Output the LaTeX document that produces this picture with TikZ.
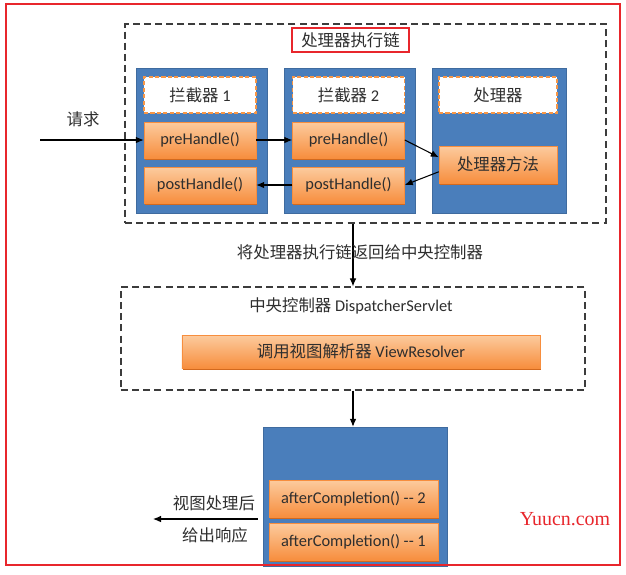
\documentclass[tikz,border=0pt]{standalone}
\usepackage{fontspec}
\setmainfont{Carlito}
\newfontfamily\cjk{Noto Sans CJK SC}
\newfontfamily\wmfont{Liberation Serif}
\usetikzlibrary{calc,shadows,arrows.meta}
\newcommand{\zh}[1]{{\cjk #1}}
\definecolor{colblue}{HTML}{4A7EBB}
\definecolor{boxorange}{HTML}{F79646}
\definecolor{orangetop}{HTML}{FCCB9E}
\definecolor{orangebot}{HTML}{F78E3E}
\definecolor{orangeedge}{HTML}{D2691E}
\definecolor{framered}{HTML}{E8262C}
\definecolor{framegray}{HTML}{3C3C3C}
\definecolor{txtgray}{HTML}{2E2E2E}

\begin{document}
\begin{tikzpicture}[x=0.03cm, y=-0.03cm, >={Latex[length=2.4mm,width=2mm]}, font=\fontsize{14}{17}\selectfont, text=txtgray,
  bluecol/.style={fill=colblue, draw=colblue!85!black, line width=0.4pt,
    drop shadow={shadow xshift=1.2pt, shadow yshift=-1.2pt, opacity=0.3}},
  namebox/.style={fill=white, draw=boxorange, dash pattern=on 3.5pt off 2pt, line width=1.1pt,
    minimum width=3.36cm, minimum height=1.08cm},
  callbox/.style={top color=orangetop, bottom color=orangebot, draw=orangebot, line width=0.4pt,
    minimum height=1.08cm, drop shadow={shadow xshift=0.6pt, shadow yshift=-1.5pt, fill=orangeedge, opacity=1}},
  dashframe/.style={draw=framegray, dash pattern=on 6pt off 3.5pt, line width=1pt},
  flow/.style={->, line width=0.9pt, black}]

\fill[white] (0,0) rectangle (626,574);

% handler execution chain
\node[dashframe, minimum width=14.43cm, minimum height=5.97cm] (chain) at (365.5,123.5) {};
\node[draw=framered, line width=1pt, minimum width=3.51cm, minimum height=0.72cm, inner sep=0pt] (chaintitle) at (350.5,40) {\zh{处理器执行链}};
\node[bluecol, minimum width=3.93cm, minimum height=4.35cm] (col1) at (201.5,140.5) {};
\node[bluecol, minimum width=3.93cm, minimum height=4.35cm] (col2) at (349.5,140.5) {};
\node[bluecol, minimum width=4.02cm, minimum height=4.35cm] (col3) at (499,140.5) {};
\node[namebox] (name1) at (200,95) {\zh{拦截器} 1};
\node[namebox] (name2) at (348.5,95) {\zh{拦截器} 2};
\node[namebox, minimum width=3.54cm] (name3) at (498,95) {\zh{处理器}};
\node[callbox, minimum width=3.36cm] (pre1) at (200,140) {preHandle()};
\node[callbox, minimum width=3.36cm] (post1) at (200,185) {postHandle()};
\node[callbox, minimum width=3.36cm] (pre2) at (348.5,140) {preHandle()};
\node[callbox, minimum width=3.36cm] (post2) at (348.5,185) {postHandle()};
\node[callbox, minimum width=3.54cm, minimum height=1.11cm] (handler) at (498,164.5) {\zh{处理器方法}};

\coordinate (reqin) at (40,140);
\node (reqlabel) at (83,119) {\zh{请求}};
\draw[flow] (reqin) -- (pre1.west);
\draw[flow] (pre1.east) -- (pre2.west);
\draw[flow] (pre2.east) -- (handler.173);
\draw[flow] (handler.187) -- (post2.east);
\draw[flow] (post2.west) -- (post1.east);

% central controller
\node[dashframe, minimum width=13.92cm, minimum height=3.09cm] (central) at (353,338.5) {};
\node (centraltitle) at (351,306) {\zh{中央控制器} DispatcherServlet};
\node[callbox, minimum width=10.74cm, minimum height=0.99cm] (resolver) at (361,351.5) {\zh{调用视图解析器} ViewResolver};
\draw[flow] (chain.south -| central.north) -- (central.north);
\node (returnlabel) at (360,252) {\zh{将处理器执行链返回给中央控制器}};

% after completion
\node[bluecol, minimum width=5.52cm, minimum height=4.17cm] (final) at (355,496.5) {};
\node[callbox, minimum width=5.07cm, minimum height=1.11cm] (after2) at (353.5,498.5) {afterCompletion() -{}- 2};
\node[callbox, minimum width=5.07cm, minimum height=1.11cm] (after1) at (353.5,541.5) {afterCompletion() -{}- 1};
\draw[flow] (central.south) -- (central.south |- final.north);

\coordinate (respout) at (153,519);
\draw[flow] ($(final.west |- respout)+(-5,0)$) -- (respout);
\node (resp1) at (214,503) {\zh{视图处理后}};
\node (resp2) at (215,535) {\zh{给出响应}};

\node[text=framered, font=\wmfont\fontsize{17}{20}\selectfont] (mark) at (565,519) {Yuucn.com};
\draw[framered, line width=1pt] (6,4) rectangle (620,565);

\end{tikzpicture}
\end{document}
